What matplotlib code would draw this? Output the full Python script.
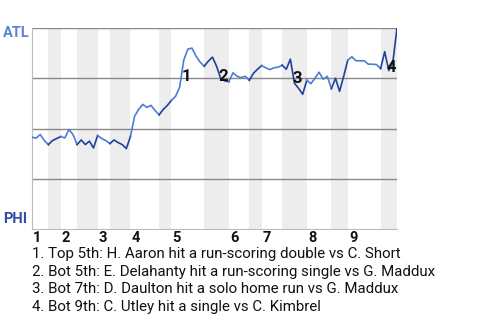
import matplotlib.pyplot as plt
import numpy as np

# ATL win probability (%) after each plate appearance
wp = [45.7, 45.2, 47, 44, 42,            # top 1
      44, 45, 46,                        # bot 1
      45.3, 49.5, 47, 42,                # top 2
      44.3, 42, 43.7, 40.3, 46.5,        # bot 2
      45, 44, 42.5,                      # top 3
      44.3, 43, 42, 40, 46,              # bot 3
      56, 59.5, 62, 60.5, 61.5, 59, 56.8,  # top 4
      59.5, 61.5, 64,                    # bot 4
      66, 70.5, 84, 89.5, 90, 86, 83, 81,  # top 5
      83.5, 85.5, 81, 75, 73.7, 73.3,    # bot 5
      77.7, 76, 75.3, 76, 74,            # top 6
      77.5, 79.5, 81.3,                  # bot 6
      80.2, 79.3, 80.2, 80.5, 81.5,      # top 7
      79.5, 84.5, 72.5, 70, 67, 74,      # bot 7
      72.3, 75, 78, 74.5, 76, 69.8,      # top 8
      75, 68.5, 76, 84,                  # bot 8
      85.7, 83.7, 83.7, 83.7, 82, 82, 81.8, 79.8,  # top 9
      88.2, 78.8, 83.2, 100]             # bot 9

# plate appearance index where each half inning starts (last = end of game)
half_starts = [0, 4, 7, 11, 16, 19, 24, 31, 34, 42, 48, 53, 56, 61, 67, 73, 77, 85, 89]
innings = ["1", "2", "3", "4", "5", "6", "7", "8", "9"]

event_idx = [37, 46, 64, 87]
event_y = [76, 76, 75, 80.5]
event_labels = ["1", "2", "3", "4"]
notes = ["1. Top 5th: H. Aaron hit a run-scoring double vs C. Short",
         "2. Bot 5th: E. Delahanty hit a run-scoring single vs G. Maddux",
         "3. Bot 7th: D. Daulton hit a solo home run vs G. Maddux",
         "4. Bot 9th: C. Utley hit a single vs C. Kimbrel"]

light = "#4d7bd8"
dark = "#21409a"

plt.rcParams['font.family'] = ['Roboto', 'DejaVu Sans']
fig = plt.figure(figsize=(4.8, 3.2), dpi=100)
ax = fig.add_axes([32/480, 1 - 229/320, 365/480, 201/320])

x = np.arange(len(wp))
for h in range(len(half_starts) - 1):
    a, b = half_starts[h], half_starts[h + 1]
    top = h % 2 == 0
    if not top:
        ax.axvspan(a, b, color="#ededed", lw=0, zorder=0)
    ax.plot(x[a:b + 1], wp[a:b + 1], color=light if top else dark, lw=1.2,
            zorder=3)

for y in [25, 50, 75, 100]:
    ax.axhline(y, color="#888888", lw=1, zorder=1)

for i, lab in enumerate(innings):
    ax.text(half_starts[2 * i] + 0.3, -1, lab, ha="left", va="top",
            fontsize=10.5, fontweight="bold", color="#111111")

for i, yv, lab in zip(event_idx, event_y, event_labels):
    ax.text(i - 0.6, yv, lab, ha="left", va="center", fontsize=12,
            fontweight="bold", color="#111111", zorder=4)

ax.set_xlim(0, half_starts[-1])
ax.set_ylim(0, 100)
ax.set_xticks([])
ax.set_yticks([])
for s in ["top", "right"]:
    ax.spines[s].set_visible(False)
ax.spines["left"].set_color("#bbbbbb")
ax.spines["bottom"].set_color("#bbbbbb")

fig.text(3/480, 1 - 33/320, "ATL", color="#5a83d8", fontsize=10.5,
         fontweight="bold", va="center", ha="left")
fig.text(3/480, 1 - 219/320, "PHI", color="#2c4ea2", fontsize=10.5,
         fontweight="bold", va="center", ha="left")

for k, t in enumerate(notes):
    fig.text(32/480, 1 - (258 + 17.6 * k)/320, t, fontsize=10.85,
             va="baseline", ha="left", color="#111111")

fig.savefig("out.png", dpi=100)
